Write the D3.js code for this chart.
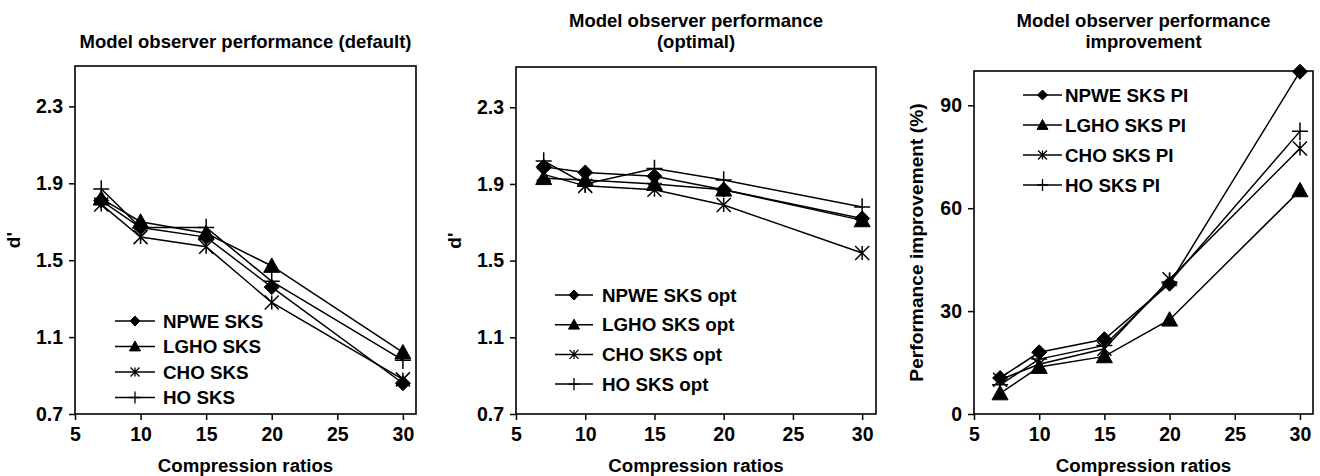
<!DOCTYPE html>
<html><head><meta charset="utf-8">
<script src="https://cdn.jsdelivr.net/npm/d3@7"></script>
<style>
body{margin:0;background:#fff}
svg text{font-family:"Liberation Sans",Arial,sans-serif;font-weight:bold;fill:#000}
</style>
</head><body>
<svg id="c" width="1320" height="476"></svg>
<script>
// ---- data ----
const ratios = [7, 10, 15, 20, 30];
const xTicks = [5, 10, 15, 20, 25, 30];
const dTicks = [0.7, 1.1, 1.5, 1.9, 2.3];
const piTicks = [0, 30, 60, 90];

const npweDefault = [1.81, 1.67, 1.62, 1.36, 0.86];
const lghoDefault = [1.82, 1.70, 1.64, 1.47, 1.02];
const choDefault  = [1.79, 1.62, 1.57, 1.28, 0.88];
const hoDefault   = [1.87, 1.67, 1.67, 1.39, 0.98];

const npweOpt = [1.99, 1.96, 1.94, 1.87, 1.72];
const lghoOpt = [1.93, 1.92, 1.90, 1.87, 1.71];
const choOpt  = [1.95, 1.89, 1.87, 1.79, 1.54];
const hoOpt   = [2.02, 1.90, 1.98, 1.92, 1.78];

const npwePI = [10.5, 18.0, 21.8, 38.0, 99.8];
const lghoPI = [6.0, 13.7, 16.8, 27.5, 65.2];
const choPI  = [10.0, 14.5, 19.0, 39.3, 77.4];
const hoPI   = [8.5, 16.0, 20.0, 38.5, 82.4];

const labelsDefault = ["NPWE SKS", "LGHO SKS", "CHO SKS", "HO SKS"];
const labelsOpt = ["NPWE SKS opt", "LGHO SKS opt", "CHO SKS opt", "HO SKS opt"];
const labelsPI = ["NPWE SKS PI", "LGHO SKS PI", "CHO SKS PI", "HO SKS PI"];
const markerTypes = ["diamond", "triangle", "asterisk", "plus"];

// ---- drawing ----
const svg = d3.select("#c");

function markerPath(type, s) {
  switch (type) {
    case "diamond": return `M0,${-s}L${s},0L0,${s}L${-s},0Z`;
    case "triangle": return `M0,${-s}L${s},${s*0.8}L${-s},${s*0.8}Z`;
    case "asterisk": return `M${-s},${-s}L${s},${s}M${-s},${s}L${s},${-s}M0,${-s}L0,${s}`;
    case "plus": return `M${-s},0L${s},0M0,${-s*1.1}L0,${s*1.1}`;
  }
}
const filled = t => t === "diamond" || t === "triangle";
const plotSize = {diamond: 7.5, triangle: 8, asterisk: 7, plus: 8};
const legSize = {diamond: 5, triangle: 5.5, asterisk: 4.5, plus: 5.5};

function panel(cfg) {
  const {left, right, top, bottom, yDomain, yTicks, yFmt, series, labels,
         titleLines, titleY, yLabel, yLabelX, legend} = cfg;
  const x = d3.scaleLinear().domain([5, 31]).range([left, right]);
  const y = d3.scaleLinear().domain(yDomain).range([bottom, top]);
  const g = svg.append("g");

  // title
  titleLines.forEach((t, i) => {
    g.append("text").attr("x", (left + right) / 2).attr("y", titleY + i * 21)
      .attr("text-anchor", "middle").style("font-size", "18.5px").text(t);
  });

  // axes
  const ax = g.append("g").attr("transform", `translate(0,${bottom})`)
    .call(d3.axisBottom(x).tickValues(xTicks).tickSize(6).tickPadding(5).tickFormat(d3.format("d")));
  const ay = g.append("g").attr("transform", `translate(${left},0)`)
    .call(d3.axisLeft(y).tickValues(yTicks).tickSize(6).tickPadding(6).tickFormat(yFmt));
  [ax, ay].forEach(a => {
    a.select(".domain").remove();
    a.selectAll("line").attr("stroke", "#000").attr("stroke-width", 1.5);
    a.selectAll("text").style("font-size", "19.5px").attr("font-family", null);
  });
  ax.selectAll("text").attr("dy", "0.8em");

  // frame
  g.append("rect").attr("x", left).attr("y", top).attr("width", right - left)
    .attr("height", bottom - top).attr("fill", "none").attr("stroke", "#000").attr("stroke-width", 1.6);

  // axis titles
  g.append("text").attr("x", (left + right) / 2).attr("y", 472).attr("text-anchor", "middle")
    .style("font-size", "18.7px").text("Compression ratios");
  g.append("text").attr("transform", `translate(${yLabelX},${(top + bottom) / 2}) rotate(-90)`)
    .attr("text-anchor", "middle").style("font-size", "19.2px").text(yLabel);

  // series
  const line = d3.line().x((d, i) => x(ratios[i])).y(d => y(d));
  series.forEach((vals, si) => {
    const t = markerTypes[si];
    g.append("path").attr("d", line(vals)).attr("fill", "none")
      .attr("stroke", "#000").attr("stroke-width", 1.5);
    g.selectAll(null).data(vals).enter().append("path")
      .attr("transform", (d, i) => `translate(${x(ratios[i])},${y(d)})`)
      .attr("d", markerPath(t, plotSize[t]))
      .attr("fill", filled(t) ? "#000" : "none")
      .attr("stroke", "#000").attr("stroke-width", filled(t) ? 1 : 1.5);
  });

  // legend
  labels.forEach((lab, i) => {
    const t = markerTypes[i];
    const yy = legend.y + i * legend.dy;
    g.append("line").attr("x1", legend.x).attr("x2", legend.x + legend.w)
      .attr("y1", yy).attr("y2", yy).attr("stroke", "#000").attr("stroke-width", 1.5);
    g.append("path").attr("transform", `translate(${legend.x + legend.w / 2},${yy})`)
      .attr("d", markerPath(t, legSize[t]))
      .attr("fill", filled(t) ? "#000" : "none")
      .attr("stroke", "#000").attr("stroke-width", filled(t) ? 1 : 1.3);
    g.append("text").attr("x", legend.x + legend.w + legend.gap).attr("y", yy)
      .attr("dy", "0.36em").style("font-size", "18.8px").text(lab);
  });
}

panel({
  left: 75, right: 416, top: 66, bottom: 414,
  yDomain: [0.7, 2.51], yTicks: dTicks, yFmt: d3.format(".1f"),
  series: [npweDefault, lghoDefault, choDefault, hoDefault], labels: labelsDefault,
  titleLines: ["Model observer performance (default)"], titleY: 48,
  yLabel: "d'", yLabelX: 20,
  legend: {x: 115, w: 40, gap: 8, y: 321, dy: 25.5}
});
panel({
  left: 516, right: 876, top: 67, bottom: 414,
  yDomain: [0.7, 2.51], yTicks: dTicks, yFmt: d3.format(".1f"),
  series: [npweOpt, lghoOpt, choOpt, hoOpt], labels: labelsOpt,
  titleLines: ["Model observer performance", "(optimal)"], titleY: 27,
  yLabel: "d'", yLabelX: 461,
  legend: {x: 555, w: 38, gap: 9, y: 295, dy: 29.7}
});
panel({
  left: 974, right: 1313, top: 71, bottom: 414,
  yDomain: [0, 100], yTicks: piTicks, yFmt: d3.format("d"),
  series: [npwePI, lghoPI, choPI, hoPI], labels: labelsPI,
  titleLines: ["Model observer performance", "improvement"], titleY: 27,
  yLabel: "Performance improvement (%)", yLabelX: 923,
  legend: {x: 1023, w: 39, gap: 3, y: 95, dy: 30}
});
</script>
</body></html>
